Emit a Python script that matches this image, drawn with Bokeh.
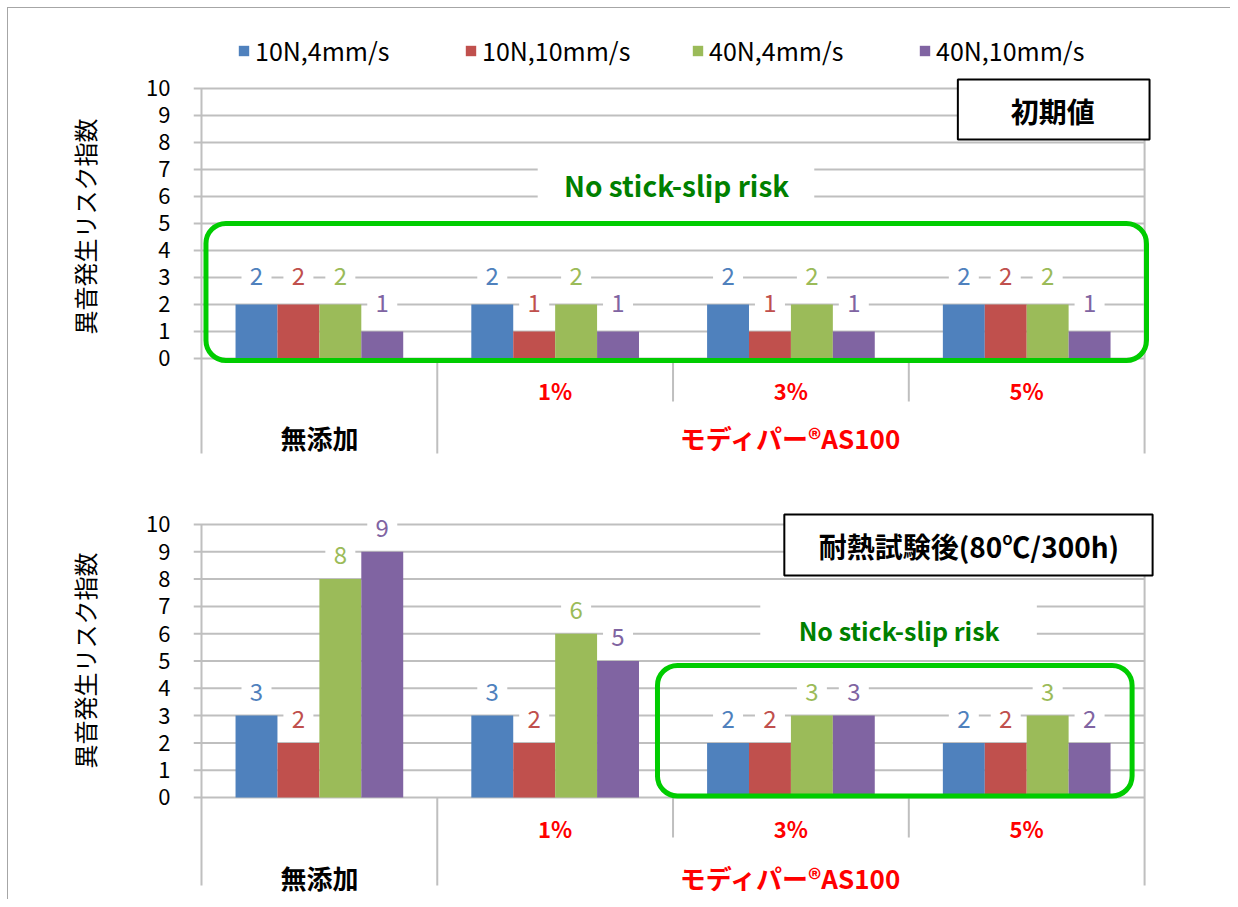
from bokeh.plotting import figure
from bokeh.models import (Range1d, FixedTicker, ColumnDataSource, Legend, LegendItem,
                          BoxAnnotation, Label, Title)
from bokeh.layouts import column
from bokeh.embed import file_html
from bokeh.resources import INLINE
from bokeh.core.properties import value

# ---------------- data ----------------
categories = ["無添加", "1%", "3%", "5%"]
category_groups = ["無添加", "モディパー®AS100", "モディパー®AS100", "モディパー®AS100"]
series_names = ["10N,4mm/s", "10N,10mm/s", "40N,4mm/s", "40N,10mm/s"]
y_ticks = [0, 1, 2, 3, 4, 5, 6, 7, 8, 9, 10]

init_10n_4mm = [2, 2, 2, 2]
init_10n_10mm = [2, 1, 1, 2]
init_40n_4mm = [2, 2, 2, 2]
init_40n_10mm = [1, 1, 1, 1]

heat_10n_4mm = [3, 3, 2, 2]
heat_10n_10mm = [2, 2, 2, 2]
heat_40n_4mm = [8, 6, 3, 3]
heat_40n_10mm = [9, 5, 3, 2]

title_initial = "初期値"
title_heat = "耐熱試験後(80℃/300h)"
y_label = "異音発生リスク指数"
note_text = "No stick-slip risk"

# ---------------- style ----------------
series_colors = ["#4F81BD", "#C0504D", "#9BBB59", "#8064A2"]
group_colors = {"無添加": "#000000", "モディパー®AS100": "#FF0000"}
FONT = "Noto Sans CJK JP"
GRID = "#BFBFBF"
W = 1222
FRAME_W = 967
X0, X1 = -0.0339, 4.059
BAR_W = 0.1778
OFFSETS = [-0.2667, -0.0889, 0.0889, 0.2667]


def make_chart(series_values, height, border_left, y_start, y_end, label_dy,
               outer_sep, inner_sep, lvl1_y, lvl2_y, ylab_offset, title, title_box,
               title_xy, title_size, note_box, note_xy, note_size, green_box,
               legend_loc=None):
    p = figure(width=W, height=height, x_range=Range1d(X0, X1),
               y_range=Range1d(y_start, y_end), output_backend="svg",
               toolbar_location=None, x_axis_location=None,
               min_border_left=border_left, min_border_right=W - border_left - FRAME_W,
               min_border_top=0, min_border_bottom=6)
    p.outline_line_color = None
    p.xgrid.visible = False
    p.ygrid.visible = False
    ax = p.yaxis[0]
    ax.ticker = FixedTicker(ticks=y_ticks)
    ax.axis_line_color = None
    ax.major_tick_line_color = None
    ax.minor_tick_line_color = None
    ax.major_label_text_font = FONT
    ax.major_label_text_font_size = "22px"
    ax.major_label_text_color = "#000000"
    ax.major_label_standoff = 17

    # y axis title
    p.add_layout(Title(text=y_label, align="left", offset=ylab_offset, standoff=83,
                       text_font=FONT, text_font_size="24px", text_font_style="normal",
                       text_color="#000000"), "left")

    ncat = len(categories)
    # horizontal grid lines
    gsrc = ColumnDataSource(dict(x0=[X0] * len(y_ticks), x1=[ncat] * len(y_ticks),
                                 y=y_ticks))
    p.segment(x0="x0", y0="y", x1="x1", y1="y", source=gsrc, line_color=GRID, line_width=2)

    # vertical separators
    vx, vtop, vbot = [], [], []
    for b in range(ncat + 1):
        outer = b == 0 or b == ncat or category_groups[b - 1] != category_groups[b]
        vx.append(b)
        vtop.append(max(y_ticks) if (b == 0 or b == ncat) else 0)
        vbot.append(outer_sep if outer else inner_sep)
    p.segment(x0=vx, y0=vtop, x1=vx, y1=vbot, line_color=GRID, line_width=2)

    # bars
    renderers = []
    for si, vals in enumerate(series_values):
        xs = [i + 0.5 + OFFSETS[si] for i in range(ncat)]
        src = ColumnDataSource(dict(x=xs, top=vals, ly=[v + label_dy for v in vals],
                                    txt=[str(v) for v in vals]))
        r = p.vbar(x="x", top="top", bottom=0, width=BAR_W, source=src,
                   fill_color=series_colors[si], line_color=None)
        renderers.append(r)
        p.rect(x="x", y="ly", width=30, height=24, width_units="screen",
               height_units="screen", source=src, fill_color="white", line_color=None)
        p.text(x="x", y="ly", text="txt", source=src, text_align="center",
               text_baseline="middle", text_color=series_colors[si],
               text_font=value(FONT), text_font_size="24px")

    # category labels (level 1 for multi-member groups, level 2 group names)
    groups = []
    for g in category_groups:
        if g not in groups:
            groups.append(g)
    l1x, l1t, l1c = [], [], []
    for i, c in enumerate(categories):
        g = category_groups[i]
        if category_groups.count(g) > 1:
            l1x.append(i + 0.5)
            l1t.append(c)
            l1c.append(group_colors[g])
    p.text(x=l1x, y=[lvl1_y] * len(l1x), text=l1t, text_color=l1c, text_align="center",
           text_baseline="middle", text_font=value(FONT), text_font_size="22px",
           text_font_style="bold")
    l2x, l2t, l2c = [], [], []
    for g in groups:
        idx = [i for i, cg in enumerate(category_groups) if cg == g]
        l2x.append((min(idx) + max(idx) + 1) / 2)
        l2t.append(g)
        l2c.append(group_colors[g])
    p.text(x=l2x, y=[lvl2_y] * len(l2x), text=l2t, text_color=l2c, text_align="center",
           text_baseline="middle", text_font=value(FONT), text_font_size="26px",
           text_font_style="bold")

    # note with white background
    p.add_layout(BoxAnnotation(left=note_box[0], right=note_box[1], top=note_box[2],
                               bottom=note_box[3], fill_color="white", fill_alpha=1,
                               line_color=None))
    p.add_layout(Label(x=note_xy[0], y=note_xy[1], text=note_text, text_align="center",
                       text_baseline="middle", text_color="#008000", text_font=FONT,
                       text_font_size=note_size, text_font_style="bold"))
    # green rounded box
    p.add_layout(BoxAnnotation(left=green_box[0], right=green_box[1], top=green_box[2],
                               bottom=green_box[3], fill_alpha=0, line_color="#00CC00",
                               line_alpha=1, line_width=5, border_radius=20))
    # title box
    p.add_layout(BoxAnnotation(left=title_box[0], right=title_box[1], top=title_box[2],
                               bottom=title_box[3], fill_color="white", fill_alpha=1,
                               line_color="#000000", line_alpha=1, line_width=2))
    p.add_layout(Label(x=title_xy[0], y=title_xy[1], text=title, text_align="center",
                       text_baseline="middle", text_color="#000000", text_font=FONT,
                       text_font_size=title_size, text_font_style="bold"))

    if legend_loc is not None:
        items = [LegendItem(label=n, renderers=[r]) for n, r in zip(series_names, renderers)]
        lg = Legend(items=items, orientation="horizontal", location=legend_loc,
                    glyph_width=13, glyph_height=13, label_standoff=5, label_width=150,
                    spacing=59, padding=0, margin=0, border_line_color=None,
                    background_fill_alpha=0, label_text_font=FONT,
                    label_text_font_size="25px", label_text_color="#000000")
        p.add_layout(lg)
    return p


top = make_chart(
    [init_10n_4mm, init_10n_10mm, init_40n_4mm, init_40n_10mm],
    height=454, border_left=185, y_start=-3.630, y_end=12.963, label_dy=1.037,
    outer_sep=-3.52, inner_sep=-1.59, lvl1_y=-1.185, lvl2_y=-2.93,
    ylab_offset=122, title=title_initial, title_box=(3.208, 4.021, 10.33, 8.11),
    title_xy=(3.611, 9.185), title_size="28px", note_box=(1.426, 2.599, 7.41, 5.48),
    note_xy=(2.015, 6.41), note_size="28px", green_box=(0.019, 4.008, 5.0, -0.074),
    legend_loc=(44, 388))

bottom = make_chart(
    [heat_10n_4mm, heat_10n_10mm, heat_40n_4mm, heat_40n_10mm],
    height=437, border_left=183, y_start=-3.517, y_end=12.271, label_dy=0.879,
    outer_sep=-3.22, inner_sep=-1.47, lvl1_y=-1.10, lvl2_y=-2.93,
    ylab_offset=125, title=title_heat, title_box=(2.472, 4.034, 10.37, 8.13),
    title_xy=(3.255, 9.23), title_size="28px", note_box=(2.370, 3.543, 7.58, 5.31),
    note_xy=(2.959, 6.12), note_size="25px", green_box=(1.934, 3.947, 4.835, 0.055))

layout = column(top, bottom, spacing=0,
                styles={"margin-top": "7px", "margin-left": "7px",
                        "border-top": "1px solid #A6A6A6",
                        "border-left": "1px solid #A6A6A6"})

open("out.html", "w").write(file_html(layout, INLINE))
